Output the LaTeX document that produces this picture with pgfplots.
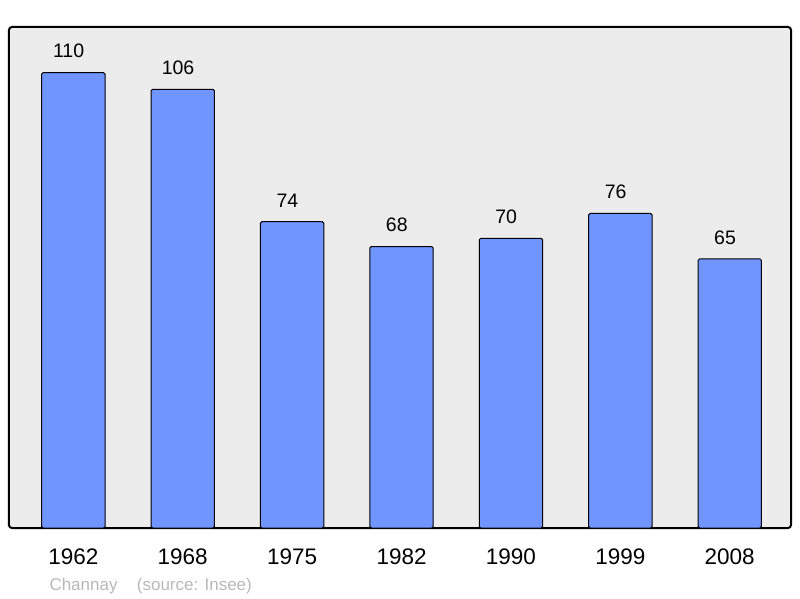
\documentclass[border=0pt]{standalone}
\usepackage{pgfplots}
\pgfplotsset{compat=1.18}
\usepackage{fontspec}
\setmainfont{Liberation Sans}
\definecolor{barblue}{HTML}{7095FF}
\definecolor{panel}{HTML}{ECECEC}
\definecolor{foot}{HTML}{B8B8B8}
\pgfplotsset{/pgf/number format/assume math mode=true}
\begin{document}
\begin{tikzpicture}
\useasboundingbox (0,0) rectangle (800pt,598pt);
\begin{axis}[
  at={(9pt,70pt)}, anchor=south west,
  width=782pt, height=501pt, scale only axis,
  xmin=-0.588, xmax=6.56, ymin=0, ymax=121.04,
  ybar, bar width=0.579,
  axis background/.style={fill=panel, rounded corners=3pt},
  axis line style={line width=2pt, rounded corners=3pt},
  xtick=data, xticklabels={1962,1968,1975,1982,1990,1999,2008},
  ytick=\empty, major tick length=0pt,
  xticklabel style={anchor=base, yshift=-36pt, font=\fontsize{22.5}{26}\selectfont},
  nodes near coords,
  every node near coord/.append style={anchor=base, yshift=14.7pt, xshift=-4.7pt,
    font=\fontsize{19.5}{22}\selectfont, text=black},
  clip=false,
]
\addplot[fill=barblue, draw=black, line width=1pt, rounded corners=1.5pt]
  coordinates {(0,110) (1,106) (2,74) (3,68) (4,70) (5,76) (6,65)};
\end{axis}
\node[anchor=base west, text=foot, font=\fontsize{17}{20}\selectfont, inner sep=0pt] at (49.3pt,7.3pt) {Channay};
\node[anchor=base west, text=foot, font=\fontsize{17}{20}\selectfont, inner sep=0pt] at (136.7pt,7.3pt) {(source: Insee)};
\end{tikzpicture}
\end{document}
